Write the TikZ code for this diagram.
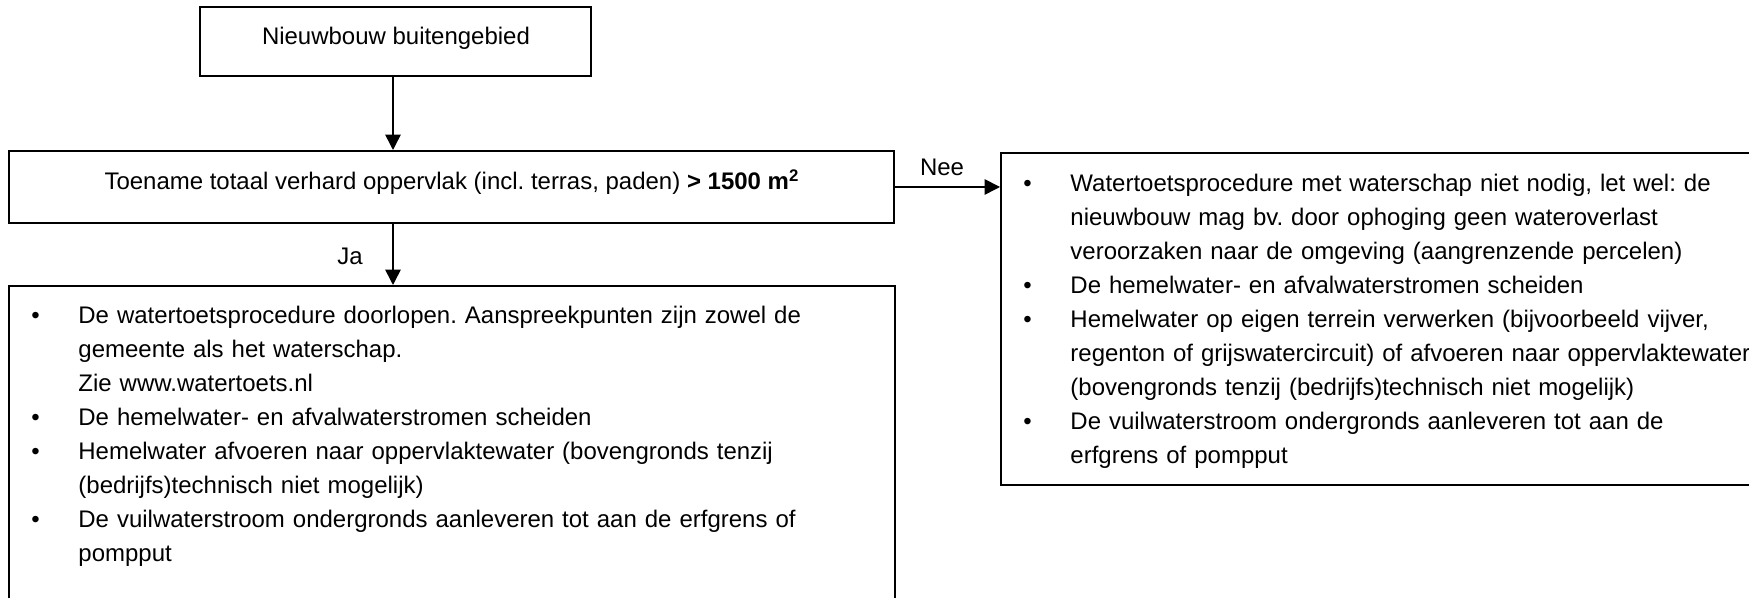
\documentclass[tikz,border=0pt]{standalone}
\usepackage{fontspec}
\setmainfont{Liberation Sans}
\frenchspacing
\usetikzlibrary{arrows.meta,fit}
\newcommand{\bul}{\leavevmode\llap{\makebox[21.4pt][l]{\textbullet}}}
\begin{document}
\begin{tikzpicture}[x=0.4545pt,y=-0.4545pt,
  boxstyle/.style={draw,line width=0.9pt,inner sep=0pt},
  txt/.style={inner sep=0pt,font=\fontsize{10.9pt}{15.45pt}\selectfont},
  listtxt/.style={txt,anchor=north west,align=left},
  arr/.style={line width=0.7pt,-{Triangle[width=7pt,length=7pt]}}]
\useasboundingbox (0,0) rectangle (1749,598);
\clip (0,0) rectangle (1749,598);
\node[boxstyle,fit={(200,7)(591,76)}] (box1) {};
\node[boxstyle,fit={(9,151)(894,223)}] (box2) {};
\node[boxstyle,fit={(9,286)(895,610)}] (box3) {};
\node[boxstyle,fit={(1001,153)(1760,485)}] (box4) {};
\node[txt,anchor=base] (t1) at (396,45) {Nieuwbouw buitengebied};
\node[txt,anchor=base] (t2) at (452,190) {Toename totaal verhard oppervlak (incl. terras, paden) \textbf{> 1500 m\textsuperscript{2}}};
\node[listtxt,text width=380pt] (l3) at (78,303.2) {\rule{0pt}{9pt}\bul De watertoetsprocedure doorlopen. Aanspreekpunten zijn zowel de\\
gemeente als het waterschap.\\
Zie www.watertoets.nl\\
\bul De hemelwater- en afvalwaterstromen scheiden\\
\bul Hemelwater afvoeren naar oppervlaktewater (bovengronds tenzij\\
(bedrijfs)technisch niet mogelijk)\\
\bul De vuilwaterstroom ondergronds aanleveren tot aan de erfgrens of\\
pompput};
\node[listtxt,text width=330pt] (l4) at (1070,171.2) {\rule{0pt}{9pt}\bul Watertoetsprocedure met waterschap niet nodig, let wel: de\\
nieuwbouw mag bv. door ophoging geen wateroverlast\\
veroorzaken naar de omgeving (aangrenzende percelen)\\
\bul De hemelwater- en afvalwaterstromen scheiden\\
\bul Hemelwater op eigen terrein verwerken (bijvoorbeeld vijver,\\
regenton of grijswatercircuit) of afvoeren naar oppervlaktewater\\
(bovengronds tenzij (bedrijfs)technisch niet mogelijk)\\
\bul De vuilwaterstroom ondergronds aanleveren tot aan de\\
erfgrens of pompput};
\coordinate (c1) at (393,0);
\draw[arr] (c1 |- box1.south) -- (c1 |- box2.north);
\draw[arr] (c1 |- box2.south) -- (c1 |- box3.north);
\draw[arr] (box2.east) -- (box2.east -| box4.west);
\node[txt,anchor=base] (ja) at (350,265) {Ja};
\node[txt,anchor=base] (nee) at (942,176) {Nee};
\end{tikzpicture}
\end{document}
